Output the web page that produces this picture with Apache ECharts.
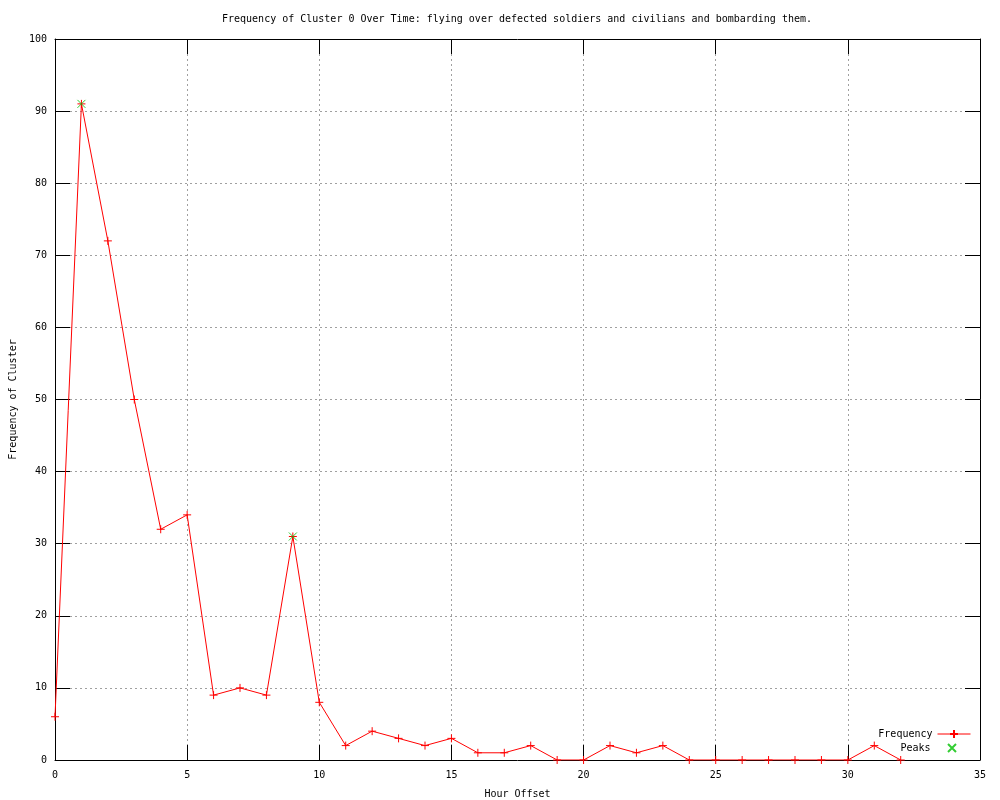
<!DOCTYPE html>
<html>
<head>
<meta charset="utf-8">
<script src="https://cdn.jsdelivr.net/npm/echarts@6/dist/echarts.min.js"></script>
<style>html,body{margin:0;padding:0;background:#fff;}#c{width:1000px;height:800px;}</style>
</head>
<body>
<div id="c"></div>
<script>
const titleText = 'Frequency of Cluster 0 Over Time: flying over defected soldiers and civilians and bombarding them.';
const hours = [0,1,2,3,4,5,6,7,8,9,10,11,12,13,14,15,16,17,18,19,20,21,22,23,24,25,26,27,28,29,30,31,32];
const frequency = [6,91,72,50,32,34,9,10,9,31,8,2,4,3,2,3,1,1,2,0,0,2,1,2,0,0,0,0,0,0,0,2,0];
const peakHours = [1,9];
const peakValues = [91,31];

const FONT = '"DejaVu Sans Mono", "Liberation Mono", monospace';
const FS = 10;
const plus = 'path://M0,5L10,5M5,0L5,10';
const cross = 'path://M0,0L10,10M10,0L0,10';

const chart = echarts.init(document.getElementById('c'), null, {renderer: 'canvas'});
const gridLine = {show: true, lineStyle: {color: '#a0a0a0', type: [2, 3], width: 1}};
const axisLine = {show: true, onZero: false, lineStyle: {color: '#000', width: 1}};
const tick = {show: true, inside: true, length: 15, lineStyle: {color: '#000'}};
const lbl = {color: '#000', fontFamily: FONT, fontSize: FS};

chart.setOption({
  animation: false,
  backgroundColor: '#fff',
  title: {
    text: titleText, left: 512, top: 9, textAlign: 'center',
    textStyle: {fontFamily: FONT, fontSize: FS, fontWeight: 'normal', color: '#000'}
  },
  grid: {left: 55, right: 20, top: 39, bottom: 40, containLabel: false, outerBoundsMode: 'none'},
  legend: [
    {data: ['Frequency'], right: 24, top: 724, orient: 'vertical', align: 'right',
     itemWidth: 33, itemHeight: 10, lineStyle: {width: 1},
     textStyle: {fontFamily: FONT, fontSize: FS, color: '#000'}},
    {data: ['Peaks'], right: 38, top: 738, orient: 'vertical', align: 'right',
     itemWidth: 33, itemHeight: 8, textStyle: {fontFamily: FONT, fontSize: FS, color: '#000'}}
  ],
  xAxis: [
    {type: 'value', min: 0, max: 35, interval: 5, position: 'bottom',
     name: 'Hour Offset', nameLocation: 'middle', nameGap: 29,
     nameTextStyle: {fontFamily: FONT, fontSize: FS, color: '#000'},
     axisLine: axisLine, axisTick: tick, axisLabel: Object.assign({margin: 10}, lbl),
     splitLine: gridLine},
    {type: 'value', min: 0, max: 35, interval: 5, position: 'top',
     axisLine: axisLine, axisTick: tick, axisLabel: {show: false}, splitLine: {show: false}}
  ],
  yAxis: [
    {type: 'value', min: 0, max: 100, interval: 10, position: 'left',
     name: 'Frequency of Cluster', nameLocation: 'middle', nameGap: 34, nameRotate: 90,
     nameTextStyle: {fontFamily: FONT, fontSize: FS, color: '#000'},
     axisLine: axisLine, axisTick: tick, axisLabel: Object.assign({margin: 8}, lbl),
     splitLine: gridLine},
    {type: 'value', min: 0, max: 100, interval: 10, position: 'right',
     axisLine: axisLine, axisTick: tick, axisLabel: {show: false}, splitLine: {show: false}}
  ],
  series: [
    {name: 'Frequency', type: 'line', xAxisIndex: 0, yAxisIndex: 0,
     data: hours.map((h, i) => [h, frequency[i]]),
     symbol: plus, symbolSize: 8, showAllSymbol: true,
     lineStyle: {color: '#ff0000', width: 1},
     itemStyle: {color: '#ff0000', borderColor: '#ff0000', borderWidth: 1},
     z: 3},
    {name: 'Peaks', type: 'scatter', xAxisIndex: 0, yAxisIndex: 0,
     data: peakHours.map((h, i) => [h, peakValues[i]]),
     symbol: cross, symbolSize: 8,
     itemStyle: {color: '#00c000', borderColor: '#00c000', borderWidth: 1},
     z: 4}
  ]
});
</script>
</body>
</html>
